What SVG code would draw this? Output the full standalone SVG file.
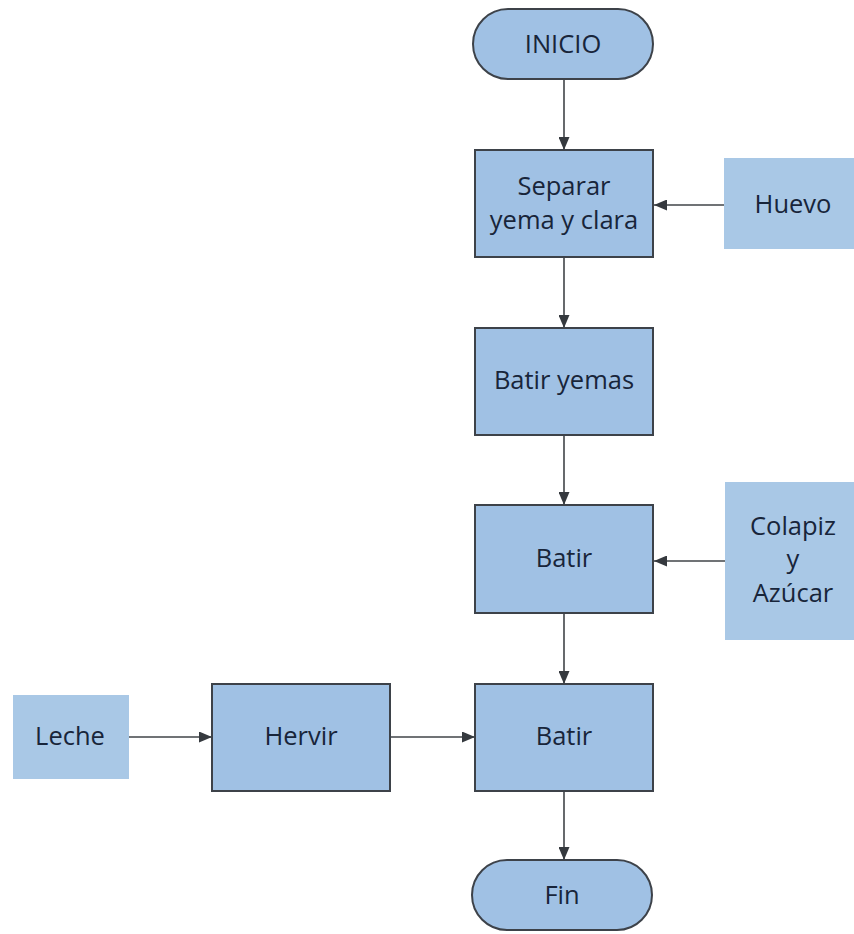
<svg xmlns="http://www.w3.org/2000/svg" width="854" height="934" viewBox="0 0 854 934">
  <style>
    .proc { fill: #a0c1e4; stroke: #3d4249; stroke-width: 2; }
    .term { fill: #a0c1e4; stroke: #3d4249; stroke-width: 2; }
    .input { fill: #a9c8e6; stroke: none; }
    .lbl { font-family: "Open Sans", "Liberation Sans", sans-serif; font-size: 25.5px; font-weight: 500; fill: #18253a; text-anchor: middle; }
    .conn { stroke: #404448; stroke-width: 1.6; fill: none; marker-end: url(#arrow); }
  </style>
  <defs>
    <marker id="arrow" viewBox="0 0 13 11" refX="13" refY="5.5" markerWidth="13" markerHeight="11" markerUnits="userSpaceOnUse" orient="auto">
      <path d="M0,0 L13,5.5 L0,11 Z" fill="#35393e"/>
    </marker>
  </defs>
  <rect width="854" height="934" fill="#ffffff"/>

  <!-- flow lines between the steps -->
  <g id="connectors">
    <line class="conn" x1="564" y1="79" x2="564" y2="150"/>
    <line class="conn" x1="724" y1="205" x2="654" y2="205"/>
    <line class="conn" x1="564" y1="257" x2="564" y2="328"/>
    <line class="conn" x1="564" y1="435" x2="564" y2="505"/>
    <line class="conn" x1="725" y1="561" x2="654" y2="561"/>
    <line class="conn" x1="564" y1="613" x2="564" y2="684"/>
    <line class="conn" x1="129" y1="737" x2="212" y2="737"/>
    <line class="conn" x1="390" y1="737" x2="475" y2="737"/>
    <line class="conn" x1="564" y1="791" x2="564" y2="860"/>
  </g>

  <g id="inicio">
    <rect class="term" x="473" y="9" width="180" height="70" rx="35" ry="35"/>
    <text class="lbl" x="563" y="53">INICIO</text>
  </g>

  <g id="separar">
    <rect class="proc" x="475" y="150" width="178" height="107"/>
    <text class="lbl" x="564" y="195">Separar</text>
    <text class="lbl" x="564" y="229">yema y clara</text>
  </g>

  <g id="huevo">
    <rect class="input" x="724" y="158" width="138" height="91"/>
    <text class="lbl" x="793" y="213">Huevo</text>
  </g>

  <g id="batir-yemas">
    <rect class="proc" x="475" y="328" width="178" height="107"/>
    <text class="lbl" x="564" y="389">Batir yemas</text>
  </g>

  <g id="batir-1">
    <rect class="proc" x="475" y="505" width="178" height="108"/>
    <text class="lbl" x="564" y="567">Batir</text>
  </g>

  <g id="colapiz-azucar">
    <rect class="input" x="725" y="482" width="137" height="158"/>
    <text class="lbl" x="793" y="535">Colapiz</text>
    <text class="lbl" x="793" y="568">y</text>
    <text class="lbl" x="793" y="602">Azúcar</text>
  </g>

  <g id="leche">
    <rect class="input" x="13" y="695" width="116" height="84"/>
    <text class="lbl" x="70" y="745">Leche</text>
  </g>

  <g id="hervir">
    <rect class="proc" x="212" y="684" width="178" height="107"/>
    <text class="lbl" x="301" y="745">Hervir</text>
  </g>

  <g id="batir-2">
    <rect class="proc" x="475" y="684" width="178" height="107"/>
    <text class="lbl" x="564" y="745">Batir</text>
  </g>

  <g id="fin">
    <rect class="term" x="472" y="860" width="180" height="70" rx="35" ry="35"/>
    <text class="lbl" x="562" y="904">Fin</text>
  </g>
</svg>
